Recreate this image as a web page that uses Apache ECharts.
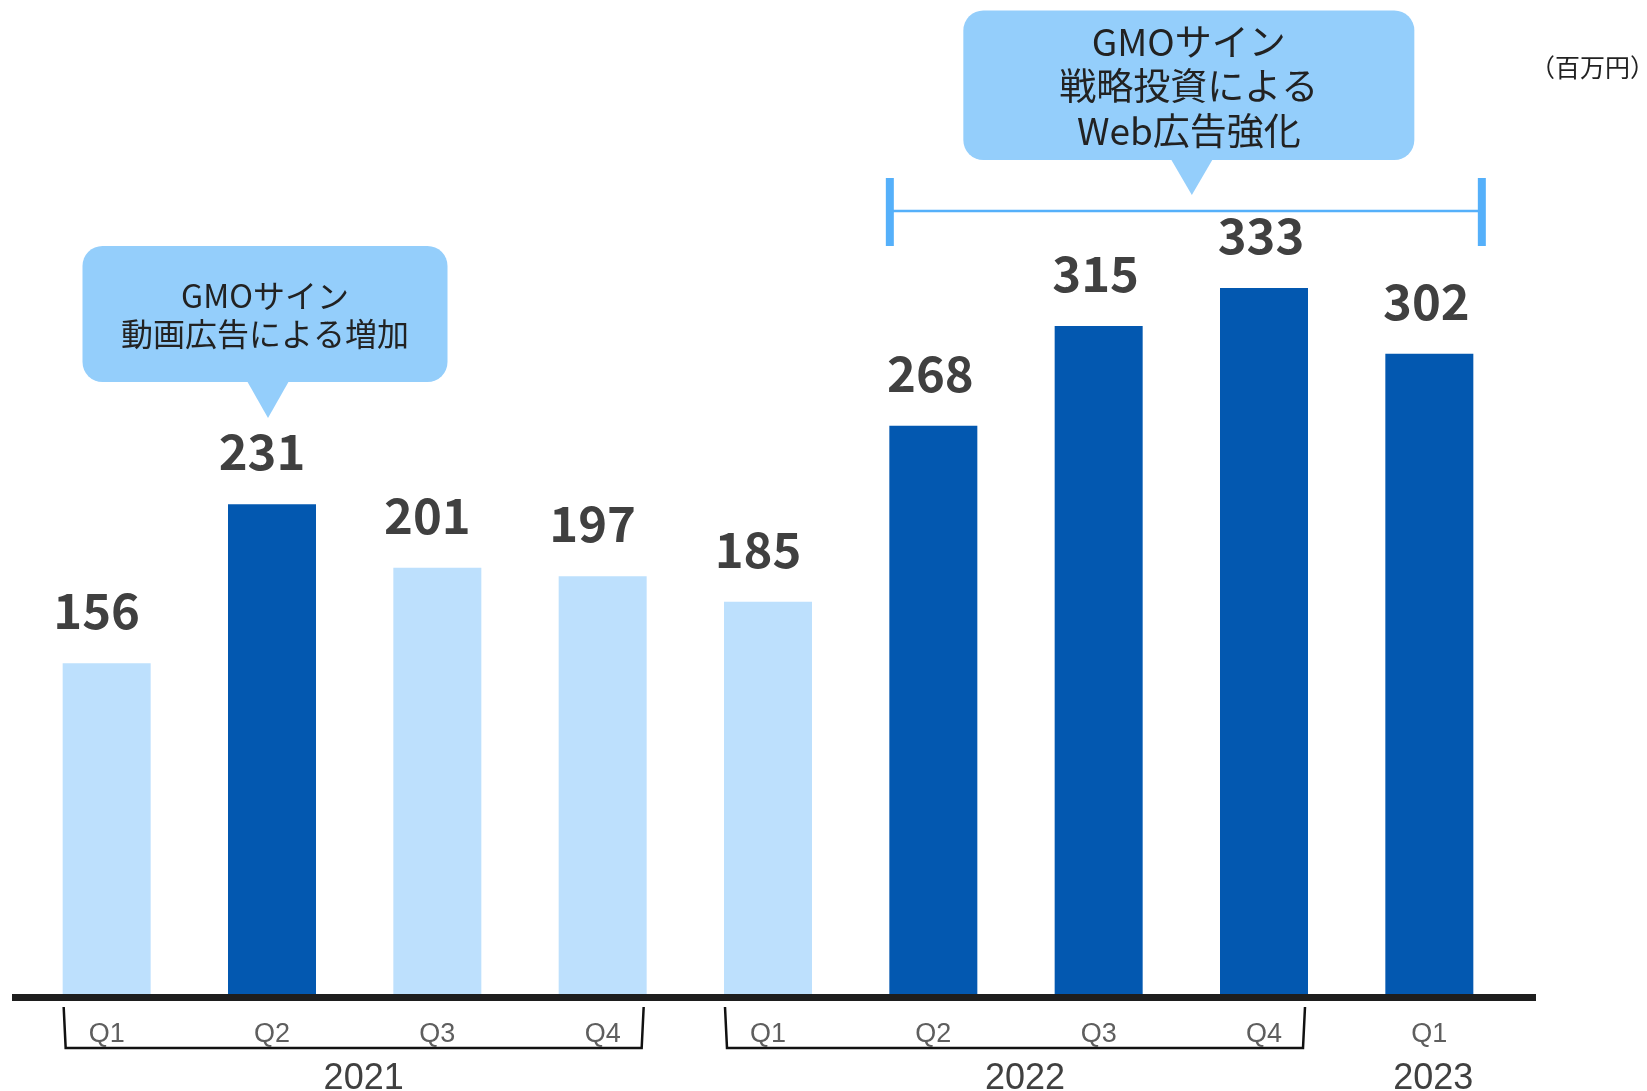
<!DOCTYPE html>
<html>
<head>
<meta charset="utf-8">
<script src="https://cdn.jsdelivr.net/npm/echarts@6/dist/echarts.min.js"></script>
<style>
  html, body { margin: 0; padding: 0; background: #fff; }
  #main { width: 1647px; height: 1091px; }
</style>
</head>
<body>
<div id="main"></div>
<script>
// 四半期ごとの売上（百万円）
var quarters = ['Q1', 'Q2', 'Q3', 'Q4', 'Q1', 'Q2', 'Q3', 'Q4', 'Q1'];
var sales = [156, 231, 201, 197, 185, 268, 315, 333, 302];
var years = ['2021', '2022', '2023'];
var yearSpans = [[0, 3], [4, 7], [8, 8]];
var darkBars = [1, 5, 6, 7, 8];
var note1 = 'GMOサイン\n動画広告による増加';
var note2 = 'GMOサイン\n戦略投資による\nWeb広告強化';
var unitText = '（百万円）';

var DARK = '#0358B0';
var LIGHT = '#BDE0FD';
var BUBBLE = '#94CEFB';
var RANGE = '#55B0FA';

var myChart = echarts.init(document.getElementById('main'));

var option = {
    animation: false,
    grid: {
        left: 24,
        right: 135,
        top: 42,
        bottom: 97,
        containLabel: false
    },
    xAxis: {
        type: 'category',
        data: quarters,
        axisLine: { show: false },
        axisTick: { show: false },
        axisLabel: {
            margin: 27,
            fontFamily: 'Liberation Sans',
            fontSize: 27,
            color: '#5e5e5e'
        }
    },
    yAxis: {
        type: 'value',
        min: 0,
        max: 449,
        show: false,
        splitLine: { show: false }
    },
    series: [
        {
            type: 'bar',
            barWidth: 88,
            label: {
                show: true,
                position: 'top',
                distance: 28,
                fontFamily: 'Noto Sans CJK JP',
                fontWeight: 'bold',
                fontSize: 49,
                color: '#404040'
            },
            data: sales.map(function (v, i) {
                return {
                    value: v,
                    itemStyle: { color: darkBars.indexOf(i) >= 0 ? DARK : LIGHT },
                    label: { offset: [i < 5 ? -10 : -3, 0] }
                };
            })
        }
    ]
};
myChart.setOption(option);

// 注釈（軸線・括弧・年・吹き出し）
function px(i) { return myChart.convertToPixel({ xAxisIndex: 0 }, i); }
var y0 = myChart.convertToPixel({ yAxisIndex: 0 }, 0);

var g = [];
// 軸線
g.push({
    type: 'line',
    shape: { x1: 12, y1: y0 + 3.5, x2: 1536, y2: y0 + 3.5 },
    style: { stroke: '#1e1e1e', lineWidth: 7 }
});
// 年の括弧と年ラベル
yearSpans.forEach(function (s, k) {
    var a = px(s[0]), b = px(s[1]);
    if (s[1] > s[0]) {
        var x1 = a - 43, x2 = b + 41;
        g.push({
            type: 'polyline',
            shape: { points: [[x1, y0 + 13], [x1 + 2, y0 + 54], [x2 - 2, y0 + 54], [x2, y0 + 13]] },
            style: { stroke: '#111', lineWidth: 2.5, fill: null }
        });
    }
    g.push({
        type: 'text',
        x: (a + b) / 2 + (s[1] > s[0] ? 9 : 4),
        y: y0 + 85,
        style: {
            text: years[k],
            fontFamily: 'Liberation Sans',
            fontSize: 36,
            fill: '#404040',
            textAlign: 'center',
            textVerticalAlign: 'middle'
        }
    });
});

// 吹き出し
function bubble(cx, top, w, h, tipX, tipY, txt, fs, lh) {
    var bottom = top + h;
    g.push({
        type: 'rect',
        shape: { x: cx - w / 2, y: top, width: w, height: h, r: 20 },
        style: { fill: BUBBLE }
    });
    g.push({
        type: 'polygon',
        shape: { points: [[tipX - 21, bottom - 1], [tipX + 21, bottom - 1], [tipX, tipY]] },
        style: { fill: BUBBLE }
    });
    g.push({
        type: 'text',
        x: cx,
        y: top + h / 2 + 1,
        style: {
            text: txt,
            fontFamily: 'Noto Sans CJK JP',
            fontSize: fs,
            lineHeight: lh,
            fill: '#222',
            textAlign: 'center',
            textVerticalAlign: 'middle'
        }
    });
}
bubble(px(1) - 7, 246, 365, 136, px(1) - 4, 418, note1, 32, 38);

// 2022Q2〜2023Q1 の範囲
var rL = px(5) - 43.5, rR = px(8) + 52.5, rY = 211;
g.push({
    type: 'line',
    shape: { x1: rL, y1: rY, x2: rR, y2: rY },
    style: { stroke: RANGE, lineWidth: 2.5 }
});
g.push({ type: 'rect', shape: { x: rL - 4, y: 178, width: 8, height: 68 }, style: { fill: RANGE } });
g.push({ type: 'rect', shape: { x: rR - 4, y: 178, width: 8, height: 68 }, style: { fill: RANGE } });
var rc = (rL + rR) / 2;
bubble(rc + 3, 10.5, 451, 149.5, rc + 6, 195, note2, 37, 44.5);

// 単位
g.push({
    type: 'text',
    x: 1530,
    y: 67.5,
    style: {
        text: unitText,
        fontFamily: 'Noto Sans CJK JP',
        fontSize: 25,
        fill: '#222',
        textAlign: 'left',
        textVerticalAlign: 'middle'
    }
});

myChart.setOption({ graphic: g });
</script>
</body>
</html>
